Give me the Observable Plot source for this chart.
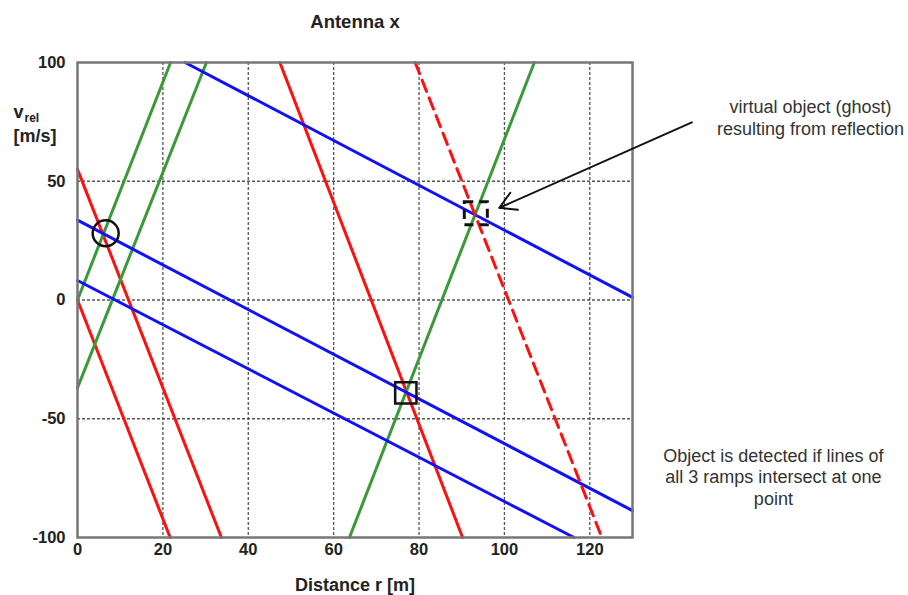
<!DOCTYPE html>
<html><head><meta charset="utf-8">
<script src="https://cdn.jsdelivr.net/npm/d3@7"></script>
<script src="https://cdn.jsdelivr.net/npm/@observablehq/plot@0.6"></script>
<style>body{margin:0;background:#fff}</style>
</head><body><div id="chart"></div>
<script>
// Axis ticks and grid positions
const xTicks = [0, 20, 40, 60, 80, 100, 120];
const yTicks = [-100, -50, 0, 50, 100];
const xGrid = [20, 40, 60, 80, 100, 120];
const yGrid = [-50, 0, 50];

// Ramp lines as [distance m, v_rel m/s] endpoints
const redRamps = [
  [[0, 0], [21.7, -100]],
  [[0, 55], [33.7, -100]],
  [[47.4, 100], [90.2, -100]]
];
const redGhostRamp = [[79.1, 100], [122.6, -99]];
const greenRamps = [
  [[0, 0], [21.8, 100]],
  [[0, -37], [30.2, 100]],
  [[63.7, -100], [107, 100]]
];
const blueRamps = [
  [[25.2, 100], [130, 1.1]],
  [[0, 33.6], [130, -88.7]],
  [[0, 8.2], [116.3, -100]]
];

// Markers
const circlePoint = [{x: 6.6, v: 28.1}];
const squarePoint = [{x: 76.9, v: -39.1}];
const ghostPoint = [{x: 93.3, v: 36.5}];
const ghostArrow = [{x1: 143.9, v1: 74.8, x2: 98.8, v2: 38.8}];
const ghostNote = [{x: 171.7, v: 77.2, text: "virtual object (ghost)\nresulting from reflection"}];
const ruleNote = [{x: 163, v: -74.2, text: "Object is detected if lines of\nall 3 ramps intersect at one\npoint"}];

const toRows = (ramps, name) => ramps.flatMap((seg, i) => seg.map(([x, v]) => ({x, v, id: name + i})));
const redRows = toRows(redRamps, "r");
const greenRows = toRows(greenRamps, "g");
const blueRows = toRows(blueRamps, "b");
const ghostRows = toRows([redGhostRamp], "rg");

const font = "'Liberation Sans', Arial, Helvetica, sans-serif";

const chart = Plot.plot({
  width: 908,
  height: 595,
  marginLeft: 77,
  marginRight: 276,
  marginTop: 62,
  marginBottom: 58,
  style: {fontFamily: font, fontSize: "16.5px", fontWeight: "bold", color: "#222", background: "#fff"},
  x: {domain: [0, 130], ticks: xTicks, tickSize: 0, tickPadding: 6, label: null, tickFormat: d => String(d)},
  y: {domain: [-100, 100], ticks: yTicks, tickSize: 0, tickPadding: 12, label: null, tickFormat: d => String(d)},
  marks: [
    Plot.ruleX(xGrid, {stroke: "#555", strokeWidth: 1.3, strokeDasharray: "3,2"}),
    Plot.ruleY(yGrid, {stroke: "#555", strokeWidth: 1.3, strokeDasharray: "3,2"}),
    Plot.line(redRows, {x: "x", y: "v", z: "id", stroke: "#ff1010", strokeWidth: 3}),
    Plot.line(greenRows, {x: "x", y: "v", z: "id", stroke: "#3a9a3a", strokeWidth: 3}),
    Plot.line(blueRows, {x: "x", y: "v", z: "id", stroke: "#1010ff", strokeWidth: 3}),
    Plot.line(ghostRows, {x: "x", y: "v", z: "id", stroke: "#ff1010", strokeWidth: 3, strokeDasharray: "12,7"}),
    Plot.frame({stroke: "#777", strokeWidth: 2.5}),
    Plot.dot(circlePoint, {x: "x", y: "v", r: 13, stroke: "#111", strokeWidth: 2.5, fill: "none"}),
    Plot.dot(squarePoint, {x: "x", y: "v", r: 12, symbol: "square", stroke: "#111", strokeWidth: 2.5, fill: "none"}),
    Plot.dot(ghostPoint, {x: "x", y: "v", r: 13, symbol: "square", stroke: "#111", strokeWidth: 3, fill: "none", strokeDasharray: "9,6"}),
    Plot.arrow(ghostArrow, {x1: "x1", y1: "v1", x2: "x2", y2: "v2", stroke: "#111", strokeWidth: 2, headLength: 14}),
    Plot.text(ghostNote, {x: "x", y: "v", text: "text", fontSize: 18, fontWeight: "normal", fill: "#333", lineHeight: 1.22}),
    Plot.text(ruleNote, {x: "x", y: "v", text: "text", fontSize: 18, fontWeight: "normal", fill: "#333", lineHeight: 1.2}),
    Plot.text(["Antenna x"], {frameAnchor: "top", lineAnchor: "bottom", dy: -35, fontSize: 18.5, fontWeight: "bold", fill: "#222"}),
    Plot.text(["Distance r [m]"], {frameAnchor: "bottom", lineAnchor: "bottom", dy: 53, fontSize: 18, fontWeight: "bold", fill: "#222"}),
    Plot.text(["v"], {frameAnchor: "top-left", textAnchor: "start", lineAnchor: "bottom", dx: -64, dy: 55.5, fontSize: 18, fontWeight: "bold", fill: "#222"}),
    Plot.text(["rel"], {frameAnchor: "top-left", textAnchor: "start", lineAnchor: "bottom", dx: -53, dy: 59.5, fontSize: 12, fontWeight: "bold", fill: "#222"}),
    Plot.text(["[m/s]"], {frameAnchor: "top-left", textAnchor: "start", lineAnchor: "bottom", dx: -64, dy: 79, fontSize: 18, fontWeight: "bold", fill: "#222"})
  ]
});
document.getElementById("chart").appendChild(chart);
</script>
</body></html>
